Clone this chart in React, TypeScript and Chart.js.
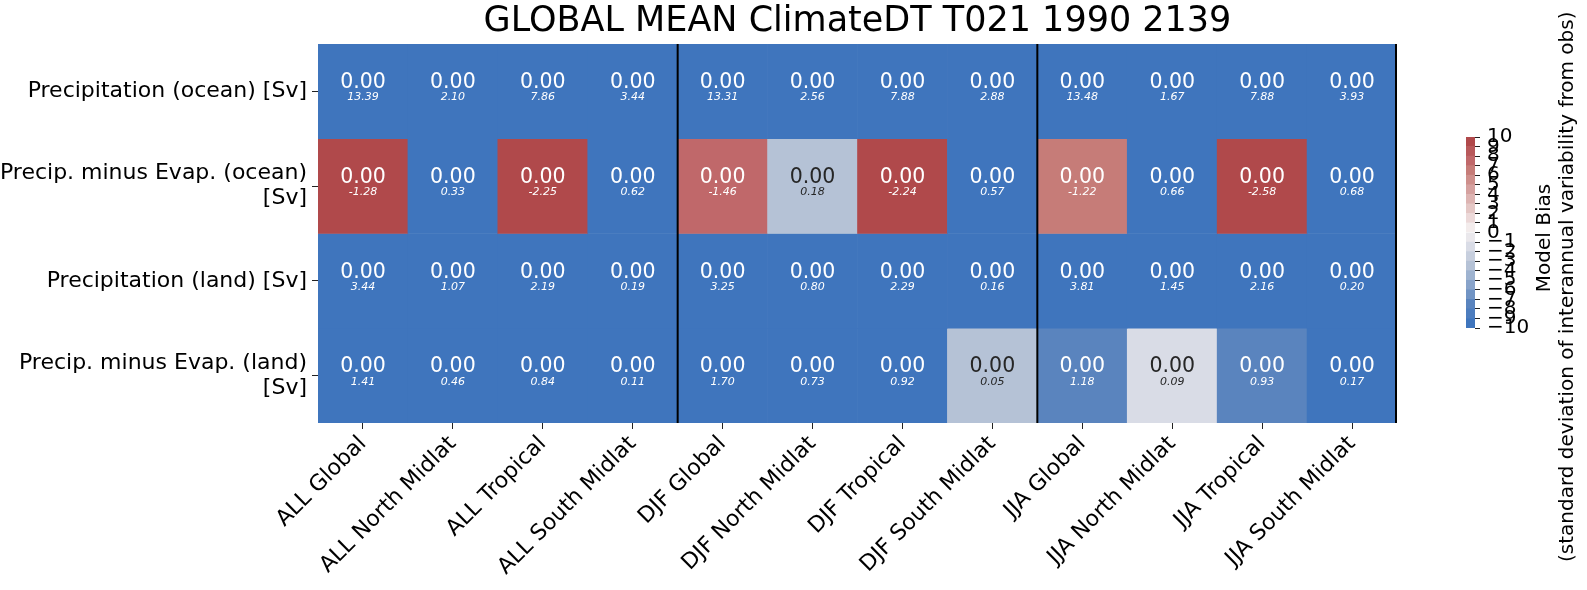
import React, { useEffect, useRef } from "react";
import { Chart, registerables } from "chart.js";

Chart.register(...registerables);

const FONT = '"DejaVu Sans", sans-serif';

const chartTitle = "GLOBAL MEAN ClimateDT T021 1990 2139";

const columns = [
  "ALL Global", "ALL North Midlat", "ALL Tropical", "ALL South Midlat",
  "DJF Global", "DJF North Midlat", "DJF Tropical", "DJF South Midlat",
  "JJA Global", "JJA North Midlat", "JJA Tropical", "JJA South Midlat",
];

const rowLabels = [
  ["Precipitation (ocean) [Sv]"],
  ["Precip. minus Evap. (ocean)", "[Sv]"],
  ["Precipitation (land) [Sv]"],
  ["Precip. minus Evap. (land)", "[Sv]"],
];

// colour value (model bias, in std. dev.) per cell
const biasPrecipOcean = [-10, -10, -10, -10, -10, -10, -10, -10, -10, -10, -10, -10];
const biasPmeOcean = [10, -10, 10, -10, 7.2, -3.2, 10, -10, 6.3, -10, 10, -10];
const biasPrecipLand = [-10, -10, -10, -10, -10, -10, -10, -10, -10, -10, -10, -10];
const biasPmeLand = [-10, -10, -10, -10, -10, -10, -10, -3.2, -7.4, -1.3, -7.4, -10];

// big annotation per cell
const annotPrecipOcean = [0, 0, 0, 0, 0, 0, 0, 0, 0, 0, 0, 0];
const annotPmeOcean = [0, 0, 0, 0, 0, 0, 0, 0, 0, 0, 0, 0];
const annotPrecipLand = [0, 0, 0, 0, 0, 0, 0, 0, 0, 0, 0, 0];
const annotPmeLand = [0, 0, 0, 0, 0, 0, 0, 0, 0, 0, 0, 0];

// small italic model values per cell
const valuesPrecipOcean = [13.39, 2.10, 7.86, 3.44, 13.31, 2.56, 7.88, 2.88, 13.48, 1.67, 7.88, 3.93];
const valuesPmeOcean = [-1.28, 0.33, -2.25, 0.62, -1.46, 0.18, -2.24, 0.57, -1.22, 0.66, -2.58, 0.68];
const valuesPrecipLand = [3.44, 1.07, 2.19, 0.19, 3.25, 0.80, 2.29, 0.16, 3.81, 1.45, 2.16, 0.20];
const valuesPmeLand = [1.41, 0.46, 0.84, 0.11, 1.70, 0.73, 0.92, 0.05, 1.18, 0.09, 0.93, 0.17];

const cbarLevels = [-10, -9, -8, -7, -6, -5, -4, -3, -2, -1, 0, 1, 2, 3, 4, 5, 6, 7, 8, 9, 10];

const cbarTitle = "Model Bias";
const cbarSubtitle = "(standard deviation of interannual variability from obs)";

const biasRows = [biasPrecipOcean, biasPmeOcean, biasPrecipLand, biasPmeLand];
const annotRows = [annotPrecipOcean, annotPmeOcean, annotPrecipLand, annotPmeLand];
const valueRows = [valuesPrecipOcean, valuesPmeOcean, valuesPrecipLand, valuesPmeLand];

// colormap anchors (position in bias units -> rgb)
const cmapAnchors: [number, number[]][] = [
  [-9.5, [63, 117, 189]],
  [-7.5, [90, 132, 190]],
  [-3.5, [181, 194, 214]],
  [-1.5, [217, 220, 230]],
  [-0.5, [234, 232, 236]],
  [0.5, [243, 236, 236]],
  [6.5, [198, 124, 120]],
  [7.5, [192, 104, 106]],
  [9.5, [176, 73, 75]],
];

function cmap(t: number): number[] {
  if (t <= cmapAnchors[0][0]) return cmapAnchors[0][1];
  for (let i = 1; i < cmapAnchors.length; i++) {
    const [t1, c1] = cmapAnchors[i];
    const [t0, c0] = cmapAnchors[i - 1];
    if (t <= t1) {
      const f = (t - t0) / (t1 - t0);
      return c0.map((v, k) => Math.round(v + (c1[k] - v) * f));
    }
  }
  return cmapAnchors[cmapAnchors.length - 1][1];
}

function bandRgb(v: number): number[] {
  const lo = Math.max(-10, Math.min(9, Math.floor(v)));
  return cmap(lo + 0.5);
}

function rgbStr(c: number[]) {
  return `rgb(${c[0]},${c[1]},${c[2]})`;
}

function textColorFor(v: number) {
  const c = bandRgb(v).map((x) => {
    const s = x / 255;
    return s <= 0.03928 ? s / 12.92 : Math.pow((s + 0.055) / 1.055, 2.4);
  });
  const lum = 0.2126 * c[0] + 0.7152 * c[1] + 0.0722 * c[2];
  return lum > 0.408 ? "#262626" : "#ffffff";
}

export default function App() {
  const mainRef = useRef<HTMLCanvasElement>(null);
  const cbarRef = useRef<HTMLCanvasElement>(null);

  useEffect(() => {
    document.body.style.margin = "0";

    const cellText = {
      id: "cellText",
      afterDatasetsDraw(chart: any) {
        const { ctx, scales, chartArea } = chart;
        const xs = scales.x;
        const ys = scales.y;
        ctx.save();
        ctx.textAlign = "center";
        ctx.textBaseline = "alphabetic";
        for (let r = 0; r < biasRows.length; r++) {
          for (let c = 0; c < columns.length; c++) {
            const cx = xs.getPixelForValue(c);
            const cy = ys.getPixelForValue(r + 0.5);
            ctx.fillStyle = textColorFor(biasRows[r][c]);
            ctx.font = `20.5px ${FONT}`;
            ctx.fillText(annotRows[r][c].toFixed(2), cx, cy - 3.2);
            ctx.font = `italic 11px ${FONT}`;
            ctx.fillText(valueRows[r][c].toFixed(2), cx, cy + 9);
          }
        }
        // season separators
        ctx.strokeStyle = "#000";
        ctx.lineWidth = 2;
        const seps = [3, 7];
        for (const s of seps) {
          const px = (xs.getPixelForValue(s) + xs.getPixelForValue(s + 1)) / 2;
          ctx.beginPath();
          ctx.moveTo(px, chartArea.top);
          ctx.lineTo(px, chartArea.bottom);
          ctx.stroke();
        }
        ctx.beginPath();
        ctx.moveTo(chartArea.right - 1, chartArea.top);
        ctx.lineTo(chartArea.right - 1, chartArea.bottom);
        ctx.stroke();
        ctx.restore();
      },
    };

    const datasets = biasRows.map((row, r) => ({
      label: rowLabels[r].join(" "),
      data: row.map(() => [r, r + 1]),
      backgroundColor: row.map((v) => rgbStr(bandRgb(v))),
      borderWidth: 0,
      barPercentage: 1,
      categoryPercentage: 1,
      grouped: false,
    }));

    const main = new Chart(mainRef.current!, {
      type: "bar",
      data: { labels: columns, datasets: datasets as any },
      options: {
        animation: false,
        responsive: false,
        maintainAspectRatio: false,
        devicePixelRatio: 1,
        layout: { padding: { left: 0, right: 43, top: 0, bottom: 0 } },
        plugins: {
          legend: { display: false },
          tooltip: { enabled: false },
          title: {
            display: true,
            text: chartTitle,
            fullSize: false,
            color: "#000",
            font: { family: FONT, size: 35, weight: "normal" as any, lineHeight: 1.2 },
            padding: { top: 1, bottom: 1 },
          },
        },
        scales: {
          x: {
            type: "category",
            offset: true,
            border: { display: false },
            grid: { offset: false, drawOnChartArea: false, drawTicks: true, tickLength: 6, tickColor: "#222", lineWidth: 1 },
            ticks: {
              autoSkip: false,
              maxRotation: 45,
              minRotation: 45,
              color: "#000",
              padding: 2,
              font: { family: FONT, size: 22 },
            },
            afterFit: (s: any) => {
              s.height = 167;
            },
          },
          y: {
            type: "linear",
            min: 0,
            max: biasRows.length,
            reverse: true,
            border: { display: false },
            grid: { drawOnChartArea: false, drawTicks: true, tickLength: 6, tickColor: "#222", lineWidth: 1 },
            afterBuildTicks: (s: any) => {
              s.ticks = rowLabels.map((_, i) => ({ value: i + 0.5 }));
            },
            ticks: {
              autoSkip: false,
              color: "#000",
              padding: 5,
              font: { family: FONT, size: 22, lineHeight: 1.15 },
              callback: (_v: any, i: number) => rowLabels[i] as any,
            },
            afterFit: (s: any) => {
              s.width = 318;
            },
          },
        },
      },
      plugins: [cellText],
    });

    const cbarTitles = {
      id: "cbarTitles",
      afterDraw(chart: any) {
        const { ctx } = chart;
        ctx.save();
        ctx.fillStyle = "#000";
        ctx.font = `20px ${FONT}`;
        ctx.textBaseline = "alphabetic";
        ctx.translate(110, 238);
        ctx.rotate(-Math.PI / 2);
        ctx.textAlign = "center";
        ctx.fillText(cbarTitle, 0, 0);
        ctx.restore();
        ctx.save();
        ctx.fillStyle = "#000";
        ctx.font = `20px ${FONT}`;
        ctx.textBaseline = "alphabetic";
        ctx.translate(133, 562);
        ctx.rotate(-Math.PI / 2);
        ctx.textAlign = "left";
        ctx.fillText(cbarSubtitle, 0, 0);
        ctx.restore();
      },
    };

    const cbarDatasets = cbarLevels.slice(0, -1).map((lv, i) => ({
      label: String(lv),
      data: [[lv, cbarLevels[i + 1]]],
      backgroundColor: rgbStr(bandRgb(lv)),
      borderWidth: 0,
      barPercentage: 1,
      categoryPercentage: 1,
      grouped: false,
    }));

    const cbar = new Chart(cbarRef.current!, {
      type: "bar",
      data: { labels: [""], datasets: cbarDatasets as any },
      options: {
        animation: false,
        responsive: false,
        maintainAspectRatio: false,
        devicePixelRatio: 1,
        layout: { padding: { left: 26, right: 0, top: 137, bottom: 262 } },
        plugins: { legend: { display: false }, tooltip: { enabled: false }, title: { display: false } },
        scales: {
          x: { display: false, offset: true },
          y: {
            type: "linear",
            position: "right",
            min: cbarLevels[0],
            max: cbarLevels[cbarLevels.length - 1],
            border: { display: false },
            grid: { drawOnChartArea: false, drawTicks: true, tickLength: 5, tickColor: "#222", lineWidth: 1 },
            afterBuildTicks: (s: any) => {
              s.ticks = cbarLevels.map((v) => ({ value: v }));
            },
            ticks: {
              autoSkip: false,
              color: "#000",
              padding: 7,
              font: { family: FONT, size: 20 },
              callback: (v: any) => (Number(v) < 0 ? "\u2212" + String(-Number(v)) : String(v)),
            },
            afterFit: (s: any) => {
              s.width = 112;
            },
          },
        },
      },
      plugins: [cbarTitles],
    });

    return () => {
      main.destroy();
      cbar.destroy();
    };
  }, []);

  return (
    <div style={{ position: "absolute", left: 0, top: 0, width: 1587, height: 590, background: "#fff" }}>
      <canvas ref={mainRef} width={1440} height={590} style={{ position: "absolute", left: 0, top: 0, width: 1440, height: 590 }} />
      <canvas ref={cbarRef} width={147} height={590} style={{ position: "absolute", left: 1440, top: 0, width: 147, height: 590 }} />
    </div>
  );
}
